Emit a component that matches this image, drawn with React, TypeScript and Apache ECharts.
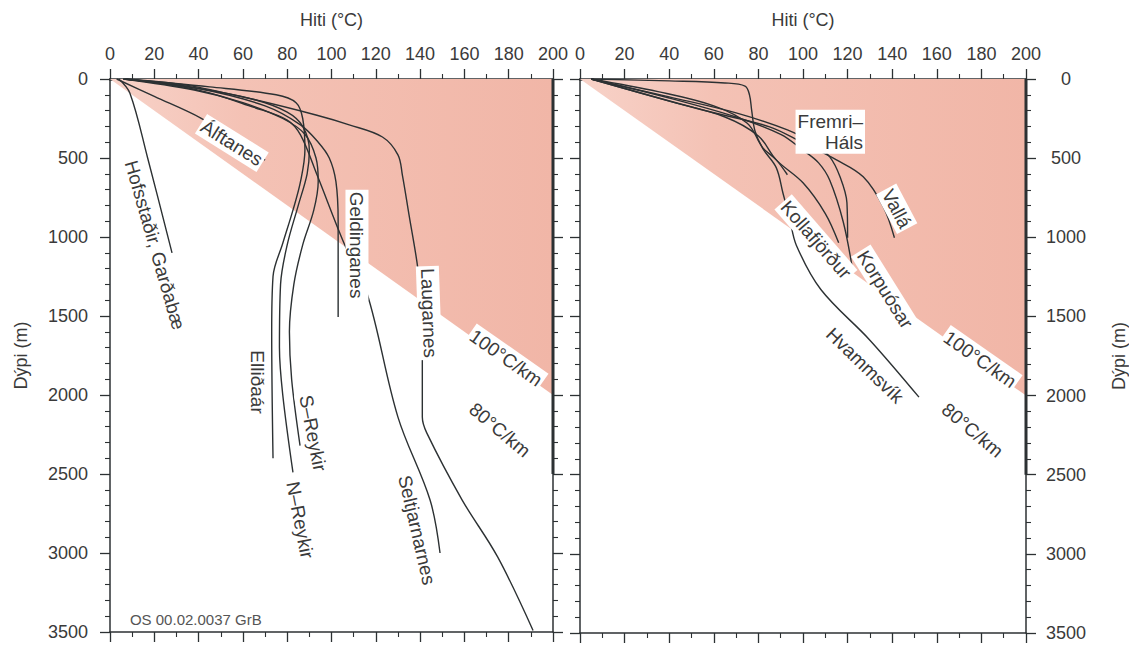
import React, { useEffect, useRef } from "react";
import * as echarts from "echarts";

// ---- data: [temperature °C, depth m] ----
const hofsstadir = [[4, 0], [9, 90], [17, 500], [28, 1100]];
const alftanes = [[3, 0], [20, 110], [41, 247], [57, 390], [70, 513]];
const ellidaar = [[6, 0], [45, 50], [75, 100], [84, 150], [87, 250], [88, 450], [86, 650], [82.6, 830], [78, 1040], [73.6, 1250], [73, 1600], [73.6, 2400]];
const nReykir = [[6, 0], [40, 60], [65, 130], [80, 210], [87, 300], [90, 450], [89, 600], [85, 800], [80, 1050], [77, 1300], [76.5, 1700], [78, 2000], [82.6, 2490]];
const sReykir = [[6, 0], [38, 70], [60, 150], [78, 250], [88, 350], [93, 500], [94, 650], [92, 830], [87, 1050], [83, 1300], [81, 1600], [82, 1900], [85.8, 2320]];
const geldinganes = [[7, 0], [40, 60], [70, 170], [86, 290], [94, 400], [99, 500], [102, 650], [103, 900], [103, 1506]];
const seltjarnarnes = [[7, 0], [40, 70], [65, 180], [80, 260], [86, 354], [93.5, 608], [105.6, 1038], [116, 1354], [130, 2140], [144.5, 2665], [149, 3000]];
const laugarnes = [[7, 0], [35, 40], [65, 130], [93, 228], [108, 290], [123, 367], [130, 480], [132, 608], [135, 860], [139, 1200], [141, 1500], [141, 2140], [143, 2240], [159, 2665], [175, 3025], [191, 3490]];

const hvammsvik = [[5, 0], [40, 12], [65, 25], [74, 45], [76, 100], [77, 200], [78.5, 330], [82, 440], [88, 560], [91, 720], [94, 880], [97, 1050], [108, 1330], [130, 1650], [152, 2010]];
const shortWell = [[5, 0], [35, 80], [60, 170], [75, 280], [82, 435], [88, 511], [93, 605]];
const kollafjordur = [[5, 0], [40, 140], [65, 240], [80, 360], [88, 511], [100, 656], [110, 850], [116, 1035]];
const korpuosar = [[5, 0], [40, 120], [70, 240], [90, 350], [100, 450], [107, 530], [112, 640], [118, 900], [122, 1185]];
const fremriHals = [[5, 0], [40, 113], [70, 214], [93, 322], [105, 410], [112, 492], [116.6, 618], [119.7, 782], [120, 1003]];
const valla = [[5, 0], [55, 196], [85, 302], [100, 404], [115, 511], [127, 618], [136, 807], [141, 1003]];

const gradient100 = [[0, 0], [200, 2000]];
const thickEdge = [[200, 0], [200, 2500]];

const leftCurves = [hofsstadir, alftanes, ellidaar, nReykir, sReykir, geldinganes, seltjarnarnes, laugarnes];
const rightCurves = [hvammsvik, shortWell, kollafjordur, korpuosar, fremriHals, valla];

const leftLabels = [
  { text: "Hofsstaðir, Garðabæ", t: 20.3, d: 1051, rot: -74 },
  { text: "Álftanes", t: 55, d: 405, rot: -32 },
  { text: "Geldinganes", t: 111.5, d: 1051, rot: -90 },
  { text: "Laugarnes", t: 144, d: 1481, rot: -88 },
  { text: "100°C/km", t: 178.8, d: 1766, rot: -35 },
  { text: "80°C/km", t: 176, d: 2222, rot: -40 },
  { text: "Elliðaár", t: 66.8, d: 1918, rot: -90 },
  { text: "S–Reykir", t: 91.6, d: 2241, rot: -79 },
  { text: "N–Reykir", t: 85.8, d: 2791, rot: -79 },
  { text: "Seltjarnarnes", t: 138.6, d: 2854, rot: -77 },
];
const rightLabels = [
  { text: "Fremri–\nHáls", t: 127.8, d: 334, rot: 0, align: "right" },
  { text: "Vallá", t: 142, d: 820, rot: -62 },
  { text: "Kollafjörður", t: 105.8, d: 1015, rot: -49 },
  { text: "Korpuósar", t: 136.8, d: 1330, rot: -58 },
  { text: "Hvammsvík", t: 127.8, d: 1810, rot: -44 },
  { text: "100°C/km", t: 179.4, d: 1772, rot: -35 },
  { text: "80°C/km", t: 176, d: 2219, rot: -40 },
];

const W = 1129;
const H = 645;
const FONT = "'Liberation Sans', Arial, Helvetica, sans-serif";
const INK = "#2c3133";
const TXT = "#3a3a3a";

function xAxisDef(gridIndex: number, top: boolean) {
  return {
    type: "value",
    gridIndex,
    position: top ? "top" : "bottom",
    min: 0,
    max: 200,
    interval: 20,
    axisLine: { show: true, onZero: false, lineStyle: { color: INK, width: top ? 2.5 : 1.5 } },
    axisTick: { show: true, inside: false, length: 10, lineStyle: { color: INK, width: 1.3 } },
    minorTick: { show: true, splitNumber: 2, length: 5, lineStyle: { color: INK, width: 1.1 } },
    axisLabel: { show: top, fontSize: 18, color: TXT, margin: 16, fontFamily: FONT, formatter: (v: number) => String(v) },
    splitLine: { show: false },
    name: top ? "Hiti (°C)" : "",
    nameLocation: "middle",
    nameGap: 50,
    nameTextStyle: { fontSize: 18, color: TXT, fontFamily: FONT },
  };
}

function yAxisDef(gridIndex: number, side: "left" | "right", labels: boolean) {
  return {
    type: "value",
    gridIndex,
    position: side,
    inverse: true,
    min: 0,
    max: 3500,
    interval: 500,
    axisLine: { show: true, onZero: false, lineStyle: { color: INK, width: 1.5 } },
    axisTick: { show: true, inside: false, length: 10, lineStyle: { color: INK, width: 1.3 } },
    minorTick: { show: true, splitNumber: 5, length: 5, lineStyle: { color: INK, width: 1.1 } },
    axisLabel: labels
      ? side === "left"
        ? { show: true, fontSize: 18, color: TXT, margin: 22, fontFamily: FONT, formatter: (v: number) => String(v) }
        : { show: true, fontSize: 18, color: TXT, margin: 40, align: "center", fontFamily: FONT, formatter: (v: number) => String(v) }
      : { show: false },
    splitLine: { show: false },
    name: labels ? "Dýpi (m)" : "",
    nameLocation: "middle",
    nameRotate: 90,
    nameGap: side === "left" ? 80 : 84,
    nameTextStyle: { fontSize: 18, color: TXT, fontFamily: FONT },
  };
}

export default function App() {
  const ref = useRef<HTMLDivElement>(null);
  useEffect(() => {
    const chart = echarts.init(ref.current!, null, { renderer: "svg", width: W, height: H });
    const areaSeries = (xi: number, yi: number) => ({
      type: "line",
      xAxisIndex: xi,
      yAxisIndex: yi,
      data: gradient100,
      showSymbol: false,
      silent: true,
      z: 1,
      lineStyle: { width: 0, opacity: 0 },
      areaStyle: {
        opacity: 1,
        color: new echarts.graphic.LinearGradient(0, 0, 1, 0, [
          { offset: 0, color: "#f7d2c8" },
          { offset: 0.3, color: "#f4c2b5" },
          { offset: 1, color: "#f1b6a7" },
        ]),
      },
    });
    const curve = (data: number[][], xi: number, yi: number) => ({
      type: "line",
      xAxisIndex: xi,
      yAxisIndex: yi,
      data,
      showSymbol: false,
      smooth: 0.35,
      silent: true,
      z: 3,
      lineStyle: { color: INK, width: 1.4 },
    });
    const edge = (xi: number, yi: number) => ({
      type: "line",
      xAxisIndex: xi,
      yAxisIndex: yi,
      data: thickEdge,
      showSymbol: false,
      silent: true,
      z: 4,
      lineStyle: { color: INK, width: 3 },
    });

    const option: any = {
      animation: false,
      backgroundColor: "#ffffff",
      textStyle: { fontFamily: FONT },
      grid: [
        { left: 110, top: 79, width: 443, height: 553 },
        { left: 580, top: 79, width: 446, height: 554 },
      ],
      xAxis: [xAxisDef(0, true), xAxisDef(0, false), xAxisDef(1, true), xAxisDef(1, false)],
      yAxis: [yAxisDef(0, "left", true), yAxisDef(0, "right", false), yAxisDef(1, "left", false), yAxisDef(1, "right", true)],
      series: [
        areaSeries(0, 0),
        areaSeries(2, 2),
        ...leftCurves.map((c) => curve(c, 0, 0)),
        ...rightCurves.map((c) => curve(c, 2, 2)),
        edge(0, 0),
        edge(2, 2),
      ],
    };
    chart.setOption(option);

    const mk = (l: any, xi: number, yi: number) => {
      const p = chart.convertToPixel({ xAxisIndex: xi, yAxisIndex: yi } as any, [l.t, l.d]) as number[];
      return {
        type: "text",
        x: p[0],
        y: p[1],
        rotation: (l.rot * Math.PI) / 180,
        z: 100,
        silent: true,
        style: {
          text: l.text,
          fill: TXT,
          font: `19px ${FONT}`,
          align: l.align || "center",
          verticalAlign: "middle",
          backgroundColor: "#ffffff",
          padding: [1, 2],
          lineHeight: 21,
        },
      };
    };
    const osPos = chart.convertToPixel({ xAxisIndex: 0, yAxisIndex: 0 } as any, [9, 3418]) as number[];
    chart.setOption({
      graphic: [
        ...leftLabels.map((l) => mk(l, 0, 0)),
        ...rightLabels.map((l) => mk(l, 2, 2)),
        {
          type: "text",
          x: osPos[0],
          y: osPos[1],
          z: 100,
          silent: true,
          style: { text: "OS 00.02.0037 GrB", fill: "#555", font: `15px ${FONT}`, align: "left", verticalAlign: "middle" },
        },
      ],
    });
    return () => chart.dispose();
  }, []);
  return <div ref={ref} style={{ position: "absolute", left: 0, top: 0, width: W, height: H, background: "#fff" }} />;
}
